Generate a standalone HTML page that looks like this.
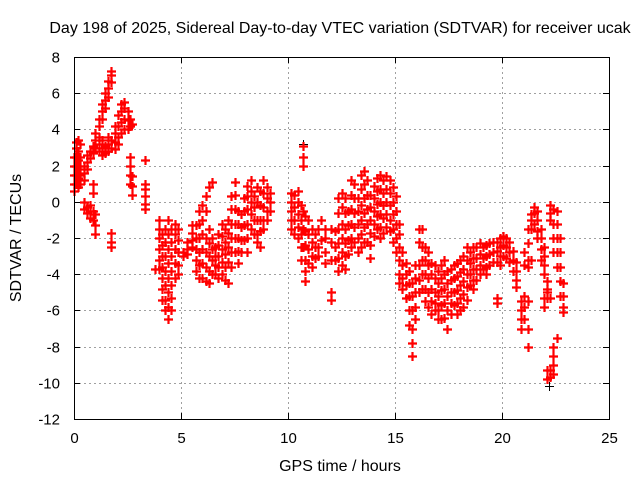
<!DOCTYPE html>
<html><head><meta charset="utf-8">
<style>
body{margin:0;background:#fff;width:640px;height:480px;overflow:hidden;font-family:"Liberation Sans",sans-serif}
</style></head>
<body>
<svg id="chart" width="640" height="480" xmlns="http://www.w3.org/2000/svg" font-family="Liberation Sans, sans-serif" font-size="15">
<rect width="640" height="480" fill="#fff"/>
<text x="340" y="33" text-anchor="middle" font-size="16">Day 198 of 2025, Sidereal Day-to-day VTEC variation (SDTVAR) for receiver ucak</text>
<text x="340" y="471" text-anchor="middle" font-size="16">GPS time / hours</text>
<text x="0" y="0" transform="translate(21,238) rotate(-90)" text-anchor="middle" font-size="16">SDTVAR / TECUs</text>
<g id="grid"></g>
<g id="ticks"></g>
<g id="marks"></g>
<rect x="74.5" y="57.5" width="535" height="362" fill="none" stroke="#000" stroke-width="1"/>
</svg>
<script>
const xTicks=[0,5,10,15,20,25];
const yTicks=[8,6,4,2,0,-2,-4,-6,-8,-10,-12];
const redHours=[0,0.1,0.2,0.3,0.45,0.6,0.75,0.9,1.0,1.15,1.3,1.45,1.6,1.75,1.9,2.05,2.2,2.35,2.5,2.6,2.7,3.3,3.8,3.95,4.1,4.25,4.4,4.55,4.7,4.85,5.1,5.3,5.5,5.7,5.85,6.0,6.15,6.3,6.45,6.6,6.75,6.9,7.05,7.2,7.35,7.5,7.65,7.8,7.95,8.1,8.25,8.4,8.55,8.7,8.85,9.0,9.15,10.15,10.3,10.45,10.6,10.7,10.8,10.95,11.1,11.25,11.4,11.55,11.75,12.0,12.2,12.35,12.5,12.65,12.8,12.95,13.1,13.25,13.4,13.55,13.7,13.85,14.0,14.15,14.3,14.45,14.6,14.75,14.9,15.05,15.2,15.35,15.5,15.65,15.8,15.95,16.1,16.25,16.4,16.55,16.7,16.85,17.0,17.15,17.3,17.45,17.6,17.75,17.9,18.05,18.2,18.35,18.5,18.65,18.8,18.95,19.1,19.25,19.4,19.6,19.75,19.9,20.05,20.2,20.35,20.5,20.65,20.9,21.05,21.2,21.35,21.5,21.65,21.8,21.95,22.1,22.25,22.4,22.55,22.7,22.85];
const redValues=[
[0.6,1.0,1.5,2.0,2.5],[1,1.5,2,2.5,3,3.3],[0.8,1.3,1.8,2.3,2.8,3.4],[1,1.5,2,2.5,3.2],[0,-0.4,1.2,1.6,2],
[-0.3,-0.6,1.8,2.2,2.6],[-0.2,-0.5,-0.9,2.4,2.8],[-0.5,-1,0.5,1,2.7,3.1],[-1.3,-1.8,-0.7,3,3.4,3.8],[2.8,3.2,3.6,4.2,4.6],
[2.6,3,3.4,4.6,5.0,5.4],[2.7,3.1,5.2,5.6,6.0],[2.8,3.2,3.6,5.8,6.3,6.7],[-1.7,-2.2,-2.5,3,3.4,6.6,7.0,7.2],[2.9,3.3,3.8,4.2],
[3.2,3.6,4.2,4.8],[3.8,4.4,5.0,5.4],[4.0,4.6,5.2,5.5],[4.0,4.5,5.0],[1,1.5,2,2.5,4.2,4.6],
[0.4,0.9,1.4,4.3],[2.3,1.0,0.7,0.3,-0.1,-0.4],[-3.7],[-1,-1.5,-2,-2.6,-3.2,-3.7],[-1.8,-2.4,-3,-3.6,-4.2,-4.8,-5.4],
[-1.5,-2.2,-3,-3.8,-4.6,-5.4,-6.0],[-1,-1.8,-2.6,-3.4,-4.2,-5,-5.8,-6.5],[-1.5,-2.2,-3,-3.8,-4.6,-5.3,-6],[-1.2,-1.8,-2.6,-3.4,-4.2],[-1.5,-2.1,-2.8,-3.5,-4.0],
[-2.8,-3.0],[-2.2,-2.6,-2.9],[-1.3,-1.7,-2.1,-2.5],[-1.3,-2,-2.6,-3.2,-3.8],[-0.5,-1.2,-2,-2.8,-3.5,-4.2],
[-0.2,-1,-1.8,-2.6,-3.4,-4.2],[0.3,-0.5,-2,-2.8,-3.6,-4.4],[0.8,-1.5,-2.3,-3,-3.8,-4.5],[1.1,-2,-2.6,-3.2,-4],[-2.5,-3,-3.5,-4],
[-1.8,-2.4,-3,-3.6,-4.2],[-1.2,-1.9,-2.6,-3.3,-4],[-1.5,-2.2,-2.9,-3.6,-4.3],[-1,-1.7,-2.5,-3.3,-4.5],[0.3,-0.4,-1.2,-2,-2.8,-3.6],
[1.1,0.4,-0.4,-1.2,-2,-2.8],[-0.5,-1.2,-2,-2.7,-3.4],[-0.7,-1.4,-2.1,-2.8],[0.2,-0.5,-1.3,-2.1],[0.9,0.3,-0.4,-1.2,-2,-2.8],
[1.2,0.6,0,-0.7,-1.5],[0.3,-0.3,-1,-1.8],[0.8,0,-1,-1.8,-2.2],[0.6,-0.2,-1,-1.6,-2.5],[1.2,0.5,-0.3,-1,-1.5],
[0.8,0.2,-0.5,-1],[0.5,0,-0.5],[0.5,0,-0.5,-1,-1.5],[0.4,-0.3,-1,-1.8],[0.6,0,-0.7,-1.4,-2],
[-0.2,-1,-1.8,-2.5,-3.2],[3.1,2.5,2.0,-0.5,-1.5,-2.5],[-0.8,-1.6,-2.4,-3.2,-3.8,-4.4],[-1,-1.8,-2.6,-3.4],[-1.5,-2.2,-3,-3.6],
[-1.8,-2.5,-3.1],[-1.5,-2.5,-3],[-1,-2.1],[-2,-2.8,-3.4,-1.5],[-1.5,-2.2,-3.2,-5,-5.4],
[-1.6,-2.5,-3.2],[0.2,-0.6,-1.5,-2.3,-3.1,-3.8],[0.5,-0.3,-1.2,-2,-2.8,-3.5],[0.2,-0.6,-1.5,-2.3,-3,-3.7],[-0.5,-1.3,-2.1,-2.9],
[1.2,0.4,-0.4,-1.2,-2,-2.5],[1,0.2,-0.6,-1.4,-2.2],[0.2,-0.5,-1.2,-2,-2.8],[1.5,0.7,-0.2,-1,-1.8,-2.5],[1.7,1,0.2,-0.6,-1.4,-2.2],
[1.2,0.4,-0.4,-1.2,-2.2],[0.4,-0.3,-1,-1.7,-2.4,-3.1],[0.9,0.2,-0.5,-1.2,-1.9],[1.3,0.6,-0.1,-0.8,-1.5],[1.5,0.7,0,-0.7,-1.4,-2],
[1.2,0.5,-0.2,-0.9,-1.7],[1.4,0.7,0,-0.7,-1.4],[1.2,0.5,-0.2,-1,-1.6],[0.8,0,-0.7,-1.5,-2.2],[0.3,-0.5,-1.2,-2,-2.8],
[-1.2,-1.8,-2.5,-3.2,-4,-4.5],[-2.8,-3.5,-4.2,-4.8],[-3.4,-4,-4.6,-5.3],[-3.8,-4.5,-5.2,-6,-6.8],[-4.5,-5.2,-6,-7,-7.8,-8.5],
[-3.5,-4.2,-5,-5.8,-6.5],[-1.5,-2.2,-3.5,-4.3,-5],[-1.5,-2.5,-3.2,-4,-4.8],[-2.5,-3.2,-4,-4.8,-5.5],[-2.8,-3.5,-4.2,-5,-5.8],
[-3.4,-4,-4.8,-5.5,-6.2],[-3.5,-4.2,-5,-5.6,-6],[-3.8,-4.5,-5.2,-6,-6.5],[-3.5,-4.2,-4.9,-5.7,-6.5],[-3.2,-4,-4.8,-5.6,-6.4],
[-3.8,-4.5,-5.2,-6,-7],[-3.7,-4.3,-5,-5.6,-6.2],[-3.5,-4.2,-5,-5.7],[-3.4,-4.1,-4.9,-5.6,-6.2],[-3.2,-3.9,-4.6,-5.3,-6],
[-3,-3.7,-4.4,-5.1,-5.8],[-2.5,-3.2,-4,-4.7,-5.4],[-2.8,-3.4,-4,-4.6],[-2.5,-3.1,-3.7,-4.3,-4.8],[-2.5,-3.1,-3.7,-4.3],
[-2.3,-2.9,-3.5,-4],[-2.5,-3.1,-3.7],[-2.4,-3,-3.6,-4],[-2.3,-2.9,-3.5],[-2.2,-2.8,-3.3],
[-2.2,-2.7,-3.3,-5.3,-5.6],[-2,-2.5,-3,-3.5],[-1.9,-2.4,-3],[-2,-2.5,-3.1],[-2.2,-2.8,-3.3],
[-2.7,-3.2,-3.8],[-3.3,-3.8,-4.3,-4.7],[-5.5,-6,-6.5,-7],[-2.8,-3.5,-5.2,-5.8,-6.5],[-1.5,-2.3,-3.2,-3.6,-5.5,-7,-8],
[-0.7,-1,-1.5,-3.2],[-0.3,-0.6,-1.2],[-0.5,-1,-1.6,-2.0],[-1.5,-2,-2.6,-3.2],[-2.5,-3,-3.5,-4,-5.3,-5.8],
[-9.3,-9.8,-4.4,-4.8,-5,-5.3],[-0.2,-0.6,-1,-5.3,-9.3,-9.7],[-0.4,-1.2,-2,-2.8,-8,-8.5,-9,-9.5],[-0.5,-1.2,-2,-2.8,-3.6,-7.5],[-2,-2.8,-3.6,-4.4,-5.2],
[-4.5,-5.2,-5.8,-6.1]];
const blackHours=[10.72,22.2];
const blackValues=[3.2,-10.2];

const X0=74,X1=609,Y0=57,Y1=419,xMin=0,xMax=25,yMin=-12,yMax=8;
const sx=v=>X0+(v-xMin)/(xMax-xMin)*(X1-X0);
const sy=v=>Y1-(v-yMin)/(yMax-yMin)*(Y1-Y0);
const NS="http://www.w3.org/2000/svg";
function mk(tag,attrs,parent){const e=document.createElementNS(NS,tag);for(const k in attrs)e.setAttribute(k,attrs[k]);parent.appendChild(e);return e;}
const grid=document.getElementById('grid'),ticks=document.getElementById('ticks'),marks=document.getElementById('marks');
xTicks.forEach(t=>{
  const x=Math.round(sx(t))+0.5;
  if(t>xMin&&t<xMax){const g=mk('line',{x1:x,x2:x,y1:Y0,y2:Y1,stroke:'#a0a0a0','stroke-dasharray':'2,3'},grid);
  
  }
  const tl=mk('text',{x:x,y:443,'text-anchor':'middle'},ticks);tl.textContent=t;
  
  
  mk('line',{x1:x,x2:x,y1:Y1,y2:Y1-6,stroke:'#000'},ticks);
  mk('line',{x1:x,x2:x,y1:Y0,y2:Y0+6,stroke:'#000'},ticks);
});
yTicks.forEach(t=>{
  const y=Math.round(sy(t))+0.5;
  if(t>yMin&&t<yMax){const g=mk('line',{x1:X0,x2:X1,y1:y,y2:y,stroke:'#a0a0a0','stroke-dasharray':'2,3'},grid);
  
  }
  const tl=mk('text',{x:60,y:y+5,'text-anchor':'end'},ticks);tl.textContent=t;
  
  
  mk('line',{x1:X0,x2:X0+6,y1:y,y2:y,stroke:'#000'},ticks);
  mk('line',{x1:X1,x2:X1-6,y1:y,y2:y,stroke:'#000'},ticks);
});
function cross(h,v,color,w,name){
  const x=Math.round(sx(h))+0.5,y=Math.round(sy(v))+0.5;
  const p=mk('path',{d:`M${x-4.5} ${y}h9M${x} ${y-4.5}v9`,stroke:color,'stroke-width':w,fill:'none'},marks);
  
  
}
blackHours.forEach((h,i)=>cross(h,blackValues[i],'#000',1,'black-point'));
redHours.forEach((h,i)=>redValues[i].forEach(v=>cross(h,v,'#ff0000',2.2,'red-point')));
</script>
</body></html>
